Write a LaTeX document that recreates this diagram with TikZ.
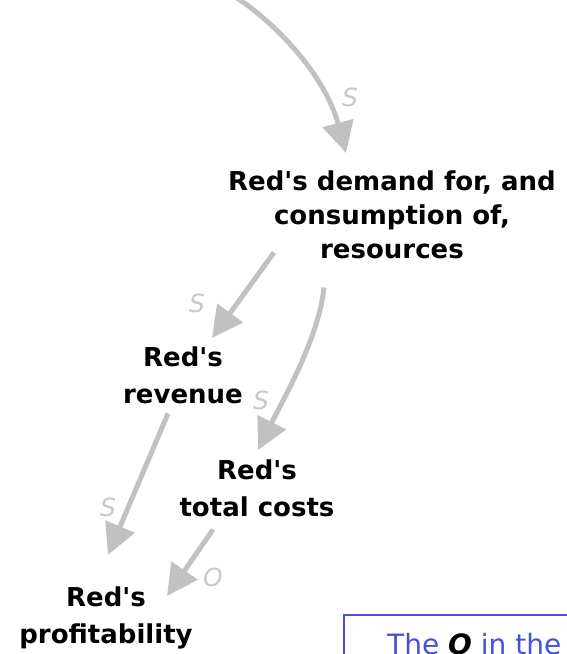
\documentclass[tikz,border=0pt]{standalone}
\usepackage{fontspec}
\setmainfont{DejaVu Sans}[Ligatures=TeXOff]
\usetikzlibrary{arrows.meta,calc}
\definecolor{arrowgray}{RGB}{192,194,193}
\definecolor{signgray}{RGB}{200,200,200}
\definecolor{noteblue}{RGB}{72,80,216}
\tikzset{
  factor/.style={font=\bfseries\fontsize{26}{37}\selectfont, align=center, inner sep=0pt, anchor=north},
  link/.style={draw=arrowgray, line width=5pt, -{Triangle[length=31pt,width=31pt]}},
  sign/.style={text=signgray, font=\itshape\fontsize{25}{25}\selectfont, inner sep=0pt},
}

\begin{document}
\begin{tikzpicture}[x=1pt,y=-1pt]
      \useasboundingbox (0,0) rectangle (567,654);
      \clip (0,0) rectangle (567,654);
      % the factors
      \node[factor, font=\bfseries\fontsize{26}{34}\selectfont] (demand) at (392,171) {Red's demand for, and\\consumption of,\\resources};
      \node[factor] (revenue) at (183,347) {Red's\\revenue};
      \node[factor] (costs) at (257,460) {Red's\\total costs};
      \node[factor] (profit) at (106,587) {Red's\\profitability};
      % links
      \coordinate (feed) at (234,-4);
      \draw[link] (feed) .. controls (275,22) and (325,75) .. ($(demand.north)+(-46,-18)$);
      \draw[link] ($(demand.south)+(-118,-7)$) -- ($(revenue.north)+(29,-9)$);
      \draw[link] ($(demand.south)+(-68,28)$) .. controls +(-5,50) and +(25,-50) .. ($(costs.north)+(1,-10)$);
      \draw[link] ($(revenue.south)+(-15,9)$) -- ($(profit.north)+(2,-32)$);
      \draw[link] ($(costs.south)+(-44,12)$) -- ($(profit.north)+(61,9)$);
      \node[sign] (sA) at (350,97) {S};
      \node[sign] (sB) at (197,303) {S};
      \node[sign] (sC) at (261,400) {S};
      \node[sign] (sD) at (108,507) {S};
      \node[sign] (sE) at (213,577) {O};
      % note box, cut by the edge
      \draw[noteblue, line width=1.2pt] (344,615) rectangle (640,720);
      \node[anchor=base west, inner sep=0pt, text=noteblue, font=\fontsize{28}{30}\selectfont] (note) at (387,654) {The \textcolor{black}{\textbf{\textit{O}}} in the};
\end{tikzpicture}
\end{document}
